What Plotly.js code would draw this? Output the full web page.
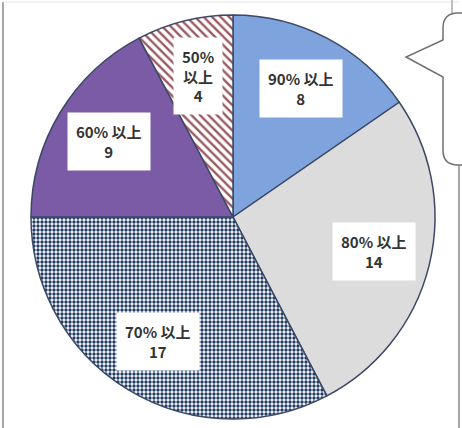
<!DOCTYPE html>
<html><head><meta charset="utf-8">
<script src="https://cdn.plot.ly/plotly-3.0.1.min.js"></script>
<style>html,body{margin:0;padding:0;background:#fff}#c{width:462px;height:428px}</style>
</head><body><div id="c"></div>
<script>
const categories = ["90% 以上", "80% 以上", "70% 以上", "60% 以上", "50% 以上"];
const values = [8, 14, 17, 9, 4];
const labelText = ["90% 以上<br>8", "80% 以上<br>14", "70% 以上<br>17", "60% 以上<br>9", "50%<br>以上<br>4"];
const colors = ["#7ea3dd", "#dcdcdc", "#ffffff", "#7b5aa6", "#ffffff"];

const W = 462, H = 428;
const cx = 233, cy = 217, R = 202;
const px = x => x / W, py = y => 1 - y / H;

// label positions derived from slice mid-angles
const total = values.reduce((a, b) => a + b, 0);
let cum = 0;
const annotations = values.map((v, i) => {
  const mid = (cum + v / 2) / total * 2 * Math.PI;
  cum += v;
  const rr = R * 0.72;
  return {
    x: px(cx + rr * Math.sin(mid)), y: py(cy - rr * Math.cos(mid)),
    xref: "paper", yref: "paper", xanchor: "center", yanchor: "middle", showarrow: false,
    text: "<b>" + labelText[i] + "</b>",
    font: {family: "Noto Sans CJK JP, sans-serif", size: 15, color: "#333"},
    bgcolor: "#ffffff", borderpad: 8, align: "center"
  };
});

const bubble = "M" + px(470) + "," + py(13) + " L" + px(458) + "," + py(13) +
  " Q" + px(443) + "," + py(13) + " " + px(443) + "," + py(28) +
  " L" + px(443) + "," + py(40) + " L" + px(406) + "," + py(57) + " L" + px(443) + "," + py(77) +
  " L" + px(443) + "," + py(150) + " Q" + px(443) + "," + py(165) + " " + px(458) + "," + py(165) +
  " L" + px(470) + "," + py(165);

const trace = {
  type: "pie", labels: categories, values: values, sort: false, direction: "clockwise", rotation: 0,
  textinfo: "none", hoverinfo: "label+value", showlegend: false,
  domain: {x: [px(cx - R), px(cx + R)], y: [py(cy + R), py(cy - R)]},
  marker: {
    colors: colors,
    line: {color: "#3b4866", width: 1.5},
    pattern: {
      shape: ["", "", ".", "", "\\"],
      fgcolor: ["#000", "#000", "#1f3a68", "#000", "#9a5a62"],
      bgcolor: ["#7ea3dd", "#dcdcdc", "#ffffff", "#7b5aa6", "#ffffff"],
      size: [8, 8, 4, 8, 6],
      solidity: [0.3, 0.3, 0.55, 0.3, 0.4]
    }
  }
};

const layout = {
  width: W, height: H, margin: {l: 0, r: 0, t: 0, b: 0},
  paper_bgcolor: "#fff", showlegend: false,
  annotations: annotations,
  shapes: [
    {type: "line", xref: "paper", yref: "paper", x0: px(3), x1: px(3), y0: py(2), y1: py(428), line: {color: "#a8a8a8", width: 2}},
    {type: "line", xref: "paper", yref: "paper", x0: px(3), x1: px(459), y0: py(2), y1: py(2), line: {color: "#e4e4e4", width: 1}},
    {type: "line", xref: "paper", yref: "paper", x0: px(459), x1: px(459), y0: py(165), y1: py(428), line: {color: "#a8a8a8", width: 2}},
    {type: "line", xref: "paper", yref: "paper", x0: px(452), x1: px(452), y0: py(0), y1: py(13), line: {color: "#a8a8a8", width: 1.5}},
    {type: "path", xref: "paper", yref: "paper", path: bubble, fillcolor: "#ffffff", line: {color: "#707070", width: 1.5}}
  ]
};
Plotly.newPlot("c", [trace], layout, {staticPlot: true});
</script></body></html>
